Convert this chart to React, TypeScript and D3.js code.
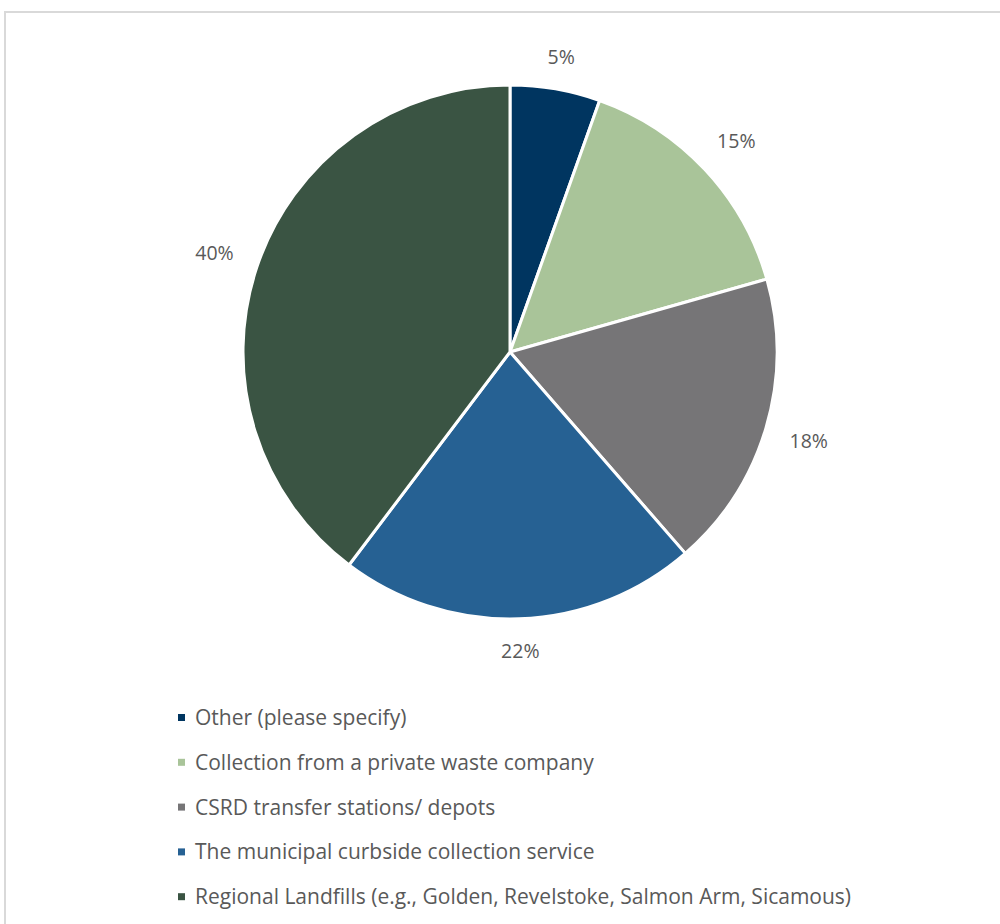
import React, { useEffect, useRef } from "react";
import * as d3 from "d3";

const categories = [
  "Other (please specify)",
  "Collection from a private waste company",
  "CSRD transfer stations/ depots",
  "The municipal curbside collection service",
  "Regional Landfills (e.g., Golden, Revelstoke, Salmon Arm, Sicamous)",
];
const values = [5.45, 15.15, 18.0, 21.7, 39.7];
const labels = ["5%", "15%", "18%", "22%", "40%"];
const colors = ["#003560", "#a9c499", "#767577", "#266193", "#3a5443"];

export default function App() {
  const ref = useRef<SVGSVGElement>(null);
  useEffect(() => {
    const svg = d3.select(ref.current);
    svg.selectAll("*").remove();
    const W = 1000, H = 924;
    svg.append("rect").attr("width", W).attr("height", H).attr("fill", "#fff");
    svg.append("rect").attr("x", 5).attr("y", 12).attr("width", 1200).attr("height", 1200)
      .attr("fill", "none").attr("stroke", "#d9d9d9").attr("stroke-width", 2);

    const cx = 510, cy = 352, r = 267;
    const pie = d3.pie<number>().sort(null).value((d) => d);
    const arcs = pie(values);
    const arc = d3.arc<d3.PieArcDatum<number>>().innerRadius(0).outerRadius(r);
    const g = svg.append("g").attr("transform", `translate(${cx},${cy})`);
    g.selectAll("path").data(arcs).join("path")
      .attr("d", arc as any)
      .attr("fill", (_, i) => colors[i])
      .attr("stroke", "#fff").attr("stroke-width", 3).attr("stroke-linejoin", "round");

    const font = "'Open Sans', sans-serif";
    arcs.forEach((a, i) => {
      const ang = (a.startAngle + a.endAngle) / 2;
      const s = Math.sin(ang), c = Math.cos(ang);
      const hw = labels[i].length * 6.5, hh = 7;
      const d = r + 24 + Math.abs(s) * hw + Math.abs(c) * hh;
      g.append("text")
        .attr("x", s * d).attr("y", -c * d)
        .attr("text-anchor", "middle").attr("dominant-baseline", "central")
        .attr("font-family", font).attr("font-size", 19.5).attr("fill", "#595959")
        .text(labels[i]);
    });

    const lg = svg.append("g");
    categories.forEach((cat, i) => {
      const y = 717 + i * 44.8;
      lg.append("rect").attr("x", 178).attr("y", y - 3).attr("width", 7).attr("height", 7)
        .attr("fill", colors[i]);
      lg.append("text").attr("x", 195).attr("y", y)
        .attr("dominant-baseline", "central")
        .attr("font-family", font).attr("font-size", 21).attr("fill", "#595959")
        .text(cat);
    });
  }, []);
  return (
    <svg ref={ref} width={1000} height={924}
      style={{ position: "absolute", left: 0, top: 0, display: "block" }} />
  );
}
